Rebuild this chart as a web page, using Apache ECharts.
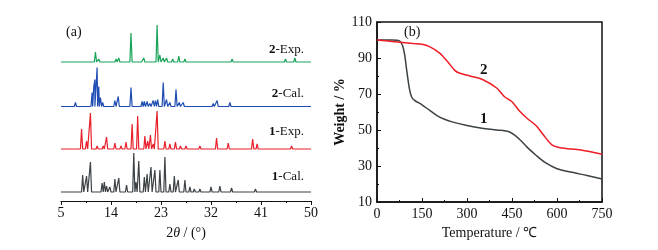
<!DOCTYPE html>
<html>
<head>
<meta charset="utf-8">
<script src="https://cdn.jsdelivr.net/npm/echarts@6/dist/echarts.min.js"></script>
<style>
  html, body { margin: 0; padding: 0; background: #fff; }
  #chart { width: 658px; height: 250px; }
</style>
</head>
<body>
<div id="chart"></div>
<script>
// (a) XRD: peaks as [2theta, height]
var peaks2Exp = [[11.2,10],[11.8,3],[12.3,2],[14.9,3],[15.4,4],[17.6,29],[19.3,2],[19.9,4],[20.4,2],
  [22.3,37],[22.8,7],[23.4,4],[24.0,4],[25.1,3],[26.2,6],[27.3,3],[28.5,2],[30.0,2],[31.5,1],[33.0,1],
  [35.8,3],[40.0,1],[45.4,3],[47.1,4]];
var peaks2Cal = [[7.6,4],[10.6,14],[10.9,20],[11.1,27],[11.5,39],[11.8,20],[12.1,9],[12.5,4],[14.7,6],
  [15.3,10],[17.6,19],[19.6,5],[20.0,5],[20.5,5],[21.0,3],[21.6,6],[22.0,6],[22.4,7],[23.4,24],[24.0,7],
  [24.6,4],[25.7,17],[26.3,4],[27.0,4],[28.0,2],[29.0,2],[30.2,2],[31.3,2],[32.4,3],[33.1,6],[35.4,4],
  [37.0,1],[39.0,1],[41.0,1],[43.0,1],[46.0,2],[48.0,1]];
var peaks1Exp = [[8.7,20],[9.6,8],[10.3,36],[11.5,3],[12.6,3],[13.2,12],[14.7,6],[15.8,3],[16.7,7],
  [17.8,25],[18.8,33],[20.1,13],[20.6,8],[21.1,14],[21.6,5],[22.3,38],[23.7,8],[24.6,5],[25.6,7],
  [26.5,3],[27.5,3],[29.0,2],[30.0,3],[31.0,2],[33.0,11],[35.1,6],[37.0,2],[39.5,10],[40.3,5],
  [41.5,2],[43.0,2],[44.5,1],[46.5,3],[48.0,1]];
var peaks1Cal = [[8.9,17],[9.6,16],[10.3,30],[12.4,9],[12.8,10],[13.2,6],[13.8,5],[14.7,13],[15.4,14],
  [16.8,7],[18.1,39],[18.5,10],[19.0,31],[20.0,15],[20.5,18],[21.2,25],[21.9,22],[22.8,22],[23.7,35],
  [24.6,8],[25.4,16],[26.1,12],[27.3,12],[28.2,5],[29.0,3],[30.0,3],[32.0,5],[33.6,6],[35.7,4],
  [37.5,2],[40.0,3],[41.3,2],[43.0,2],[45.0,2],[47.0,2],[49.0,1]];
var xrdOffsets = { e2: 139, c2: 94.5, e1: 52, c1: 9 };
var xrdTicks = [5, 14, 23, 32, 41, 50];

// (b) TGA: temperature / weight %
var tgaTemp1 = [0, 50, 75, 85, 92, 100, 108, 115, 125, 150, 175, 200, 225, 250, 300, 350, 400, 440, 460, 480, 500, 530, 560, 600, 650, 700, 750];
var tgaW1 = [100, 100, 99.5, 97, 92, 82, 73, 68.5, 66.5, 64, 61, 58, 56, 54.5, 52.5, 51, 50, 49, 47, 44, 40.5, 36, 32, 28.5, 26.5, 24.7, 22.8];
var tgaTemp2 = [0, 50, 120, 150, 175, 210, 235, 260, 272, 310, 355, 400, 425, 450, 475, 500, 530, 555, 583, 610, 680, 750];
var tgaW2 = [100, 99.2, 98, 97.6, 96.3, 92.6, 88, 83, 81.8, 80, 77.8, 73.2, 68.5, 65.7, 60.5, 56.5, 52.5, 47.2, 41.7, 40.2, 38.9, 36.5];

var hw = 0.2;
function xrdLine(peaks, offset) {
  var pts = [[0, offset], [45, offset]];
  peaks.forEach(function (p) {
    var x = p[0] - 5;
    pts.push([x - hw, offset], [x, offset + p[1]], [x + hw, offset]);
  });
  pts.sort(function (a, b) { return a[0] - b[0]; });
  return pts;
}
function tgaLine(ts, ws) {
  return ts.map(function (t, i) { return [t, ws[i] - 10]; });
}

var serif = 'Liberation Serif';
var chart = echarts.init(document.getElementById('chart'));
chart.setOption({
  animation: false,
  textStyle: { fontFamily: serif },
  grid: [
    { left: 61, right: 347, top: 10, bottom: 49 },
    { left: 377, right: 56, top: 22, bottom: 48, show: true, borderColor: '#111', borderWidth: 1.5 }
  ],
  xAxis: [
    {
      gridIndex: 0, type: 'value', min: 0, max: 45, interval: 9,
      axisLine: { lineStyle: { color: '#111', width: 1.2 } },
      axisTick: { length: 4, lineStyle: { color: '#111' } },
      minorTick: { show: true, splitNumber: 2, length: 2, lineStyle: { color: '#111' } },
      splitLine: { show: false },
      axisLabel: { color: '#111', fontSize: 14, fontFamily: serif, margin: 5,
        formatter: function (v) { return xrdTicks[Math.round(v / 9)]; } },
      name: '{n|2}{i|θ}{n| / (°)}', nameLocation: 'middle', nameGap: 25,
      nameTextStyle: { rich: {
        n: { fontSize: 14, fontFamily: serif, color: '#111' },
        i: { fontSize: 14, fontFamily: serif, fontStyle: 'italic', color: '#111' } } }
    },
    {
      gridIndex: 1, type: 'value', min: 0, max: 750, interval: 150,
      axisLine: { onZero: false, lineStyle: { color: '#111', width: 1.5 } },
      axisTick: { inside: true, length: 4, lineStyle: { color: '#111' } },
      minorTick: { show: true, splitNumber: 2, length: 2, lineStyle: { color: '#111' } },
      splitLine: { show: false },
      axisLabel: { color: '#111', fontSize: 14, fontFamily: serif, margin: 5 },
      name: 'Temperature / ℃', nameLocation: 'middle', nameGap: 23,
      nameTextStyle: { fontSize: 14, fontFamily: serif, color: '#111' }
    }
  ],
  yAxis: [
    { gridIndex: 0, type: 'value', min: 0, max: 191, show: false },
    {
      gridIndex: 1, type: 'value', min: 0, max: 100, interval: 20,
      axisLine: { onZero: false, lineStyle: { color: '#111', width: 1.5 } },
      axisTick: { inside: true, length: 4, lineStyle: { color: '#111' } },
      minorTick: { show: true, splitNumber: 2, length: 2, lineStyle: { color: '#111' } },
      splitLine: { show: false },
      axisLabel: { color: '#111', fontSize: 14, fontFamily: serif, margin: 5,
        formatter: function (v) { return v + 10; } },
      name: 'Weight / %', nameLocation: 'middle', nameGap: 30,
      nameTextStyle: { fontSize: 14, fontFamily: serif, color: '#111', fontWeight: 'bold' }
    }
  ],
  series: [
    { type: 'line', xAxisIndex: 0, yAxisIndex: 0, showSymbol: false, data: xrdLine(peaks2Exp, xrdOffsets.e2),
      lineStyle: { color: '#1aa35a', width: 1.2 } },
    { type: 'line', xAxisIndex: 0, yAxisIndex: 0, showSymbol: false, data: xrdLine(peaks2Cal, xrdOffsets.c2),
      lineStyle: { color: '#1f4db3', width: 1.2 } },
    { type: 'line', xAxisIndex: 0, yAxisIndex: 0, showSymbol: false, data: xrdLine(peaks1Exp, xrdOffsets.e1),
      lineStyle: { color: '#e8202b', width: 1.2 } },
    { type: 'line', xAxisIndex: 0, yAxisIndex: 0, showSymbol: false, data: xrdLine(peaks1Cal, xrdOffsets.c1),
      lineStyle: { color: '#3c4246', width: 1.2 } },
    { type: 'line', xAxisIndex: 1, yAxisIndex: 1, showSymbol: false, smooth: 0.3, data: tgaLine(tgaTemp1, tgaW1),
      lineStyle: { color: '#3c4246', width: 1.5 } },
    { type: 'line', xAxisIndex: 1, yAxisIndex: 1, showSymbol: false, smooth: 0.3, data: tgaLine(tgaTemp2, tgaW2),
      lineStyle: { color: '#ee1c25', width: 1.5 } }
  ],
  graphic: [
    { type: 'text', left: 66, top: 25, style: { text: '(a)', font: '14px ' + serif, fill: '#111' } },
    { type: 'text', right: 354, top: 43, style: { text: '{b|2}-Exp.', font: '13px ' + serif, fill: '#111',
      rich: { b: { fontWeight: 'bold', fontSize: 13, fontFamily: serif } } } },
    { type: 'text', right: 354, top: 87, style: { text: '{b|2}-Cal.', font: '13px ' + serif, fill: '#111',
      rich: { b: { fontWeight: 'bold', fontSize: 13, fontFamily: serif } } } },
    { type: 'text', right: 354, top: 125, style: { text: '{b|1}-Exp.', font: '13px ' + serif, fill: '#111',
      rich: { b: { fontWeight: 'bold', fontSize: 13, fontFamily: serif } } } },
    { type: 'text', right: 354, top: 170, style: { text: '{b|1}-Cal.', font: '13px ' + serif, fill: '#111',
      rich: { b: { fontWeight: 'bold', fontSize: 13, fontFamily: serif } } } },
    { type: 'text', left: 404, top: 25, style: { text: '(b)', font: '14px ' + serif, fill: '#111' } },
    { type: 'text', left: 480, top: 63, style: { text: '2', font: 'bold 15px ' + serif, fill: '#111' } },
    { type: 'text', left: 480, top: 112, style: { text: '1', font: 'bold 15px ' + serif, fill: '#111' } }
  ]
});
</script>
</body>
</html>
